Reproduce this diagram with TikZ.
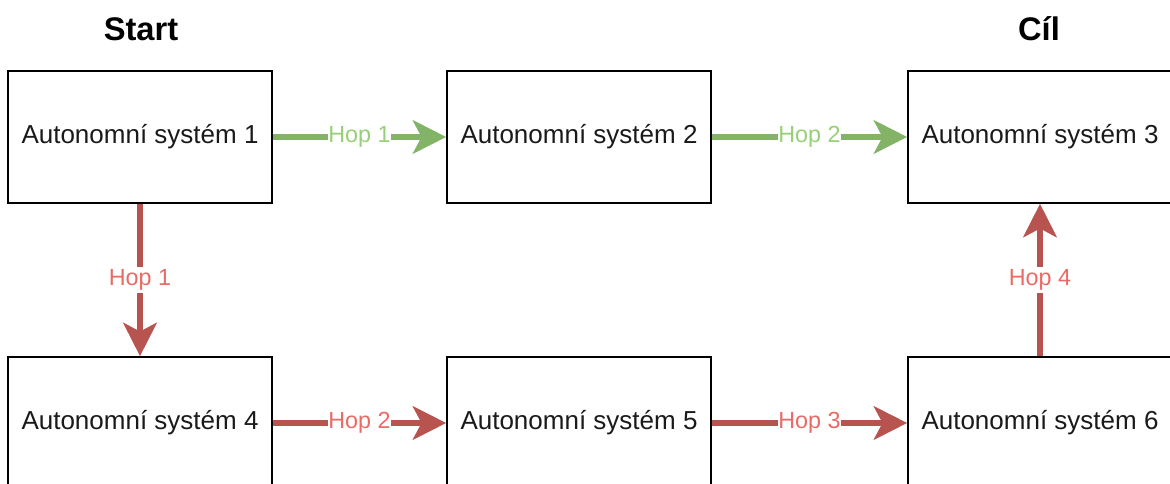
\documentclass[tikz,border=0pt]{standalone}
\usepackage{fontspec}
\setmainfont{Liberation Sans}
\usetikzlibrary{arrows.meta}
\definecolor{okline}{HTML}{82B366}
\definecolor{oktext}{HTML}{97D077}
\definecolor{altline}{HTML}{B85450}
\definecolor{alttext}{HTML}{EA6B66}
\definecolor{boxtext}{HTML}{1A1A1A}
\begin{document}
\begin{tikzpicture}[x=0.75pt,y=-0.75pt,
  asbox/.style={draw=black, line width=1.2pt, fill=white,
    minimum width=198pt, minimum height=99pt, inner sep=0pt,
    font=\fontsize{19.5}{22}\selectfont, text=boxtext},
  heading/.style={font=\fontsize{24.5}{28}\selectfont\bfseries, text=black},
  hop/.style={line width=4.6pt,
    -{Stealth[length=25pt, width=25pt, inset=6.5pt]}},
  okhop/.style={hop, draw=okline},
  althop/.style={hop, draw=altline},
  hoplabel/.style={fill=white, inner xsep=0.5pt, inner ysep=2pt,
    font=\fontsize{17.5}{20}\selectfont},
]
\useasboundingbox (0,0) rectangle (1170,484);
\clip (0,0) rectangle (1170,484);

% headings
\node[heading] (start) at (141,29) {Start};
\node[heading] (goal) at (1039,29) {Cíl};

% autonomous systems
\node[asbox] (as1) at (140,137) {Autonomní systém 1};
\node[asbox] (as2) at (579,137) {Autonomní systém 2};
\node[asbox] (as3) at (1040,137) {Autonomní systém 3};
\node[asbox] (as4) at (140,423) {Autonomní systém 4};
\node[asbox] (as5) at (579,423) {Autonomní systém 5};
\node[asbox] (as6) at (1040,423) {Autonomní systém 6};

% direct route (green)
\draw[okhop] (as1.east) -- node[hoplabel, text=oktext] {Hop 1} (as2.west);
\draw[okhop] (as2.east) -- node[hoplabel, text=oktext] {Hop 2} (as3.west);

% detour (red)
\draw[althop] (as1.south) -- node[hoplabel, text=alttext] {Hop 1} (as4.north);
\draw[althop] (as4.east) -- node[hoplabel, text=alttext] {Hop 2} (as5.west);
\draw[althop] (as5.east) -- node[hoplabel, text=alttext] {Hop 3} (as6.west);
\draw[althop] (as6.north) -- node[hoplabel, text=alttext] {Hop 4} (as3.south);
\end{tikzpicture}
\end{document}
